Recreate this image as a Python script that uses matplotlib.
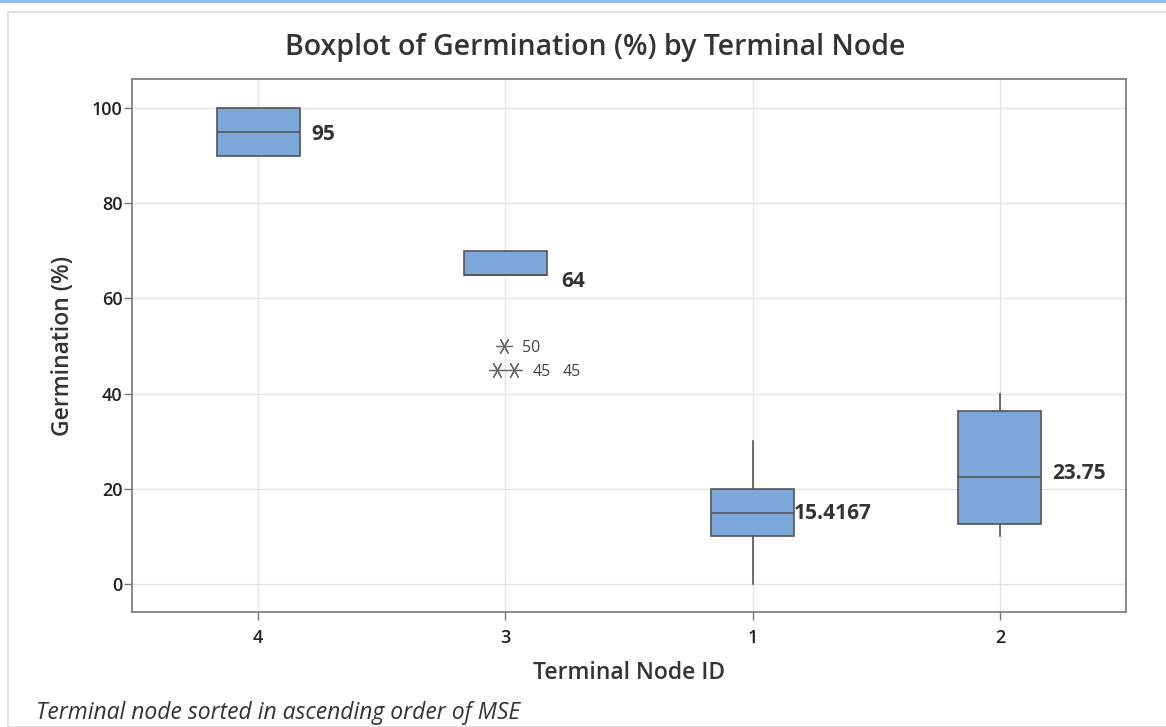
import matplotlib
matplotlib.use("Agg")
import matplotlib.pyplot as plt
from matplotlib.patches import Rectangle
from matplotlib.lines import Line2D
import matplotlib.transforms as mtransforms

# ---- data ----
nodes = ["4", "3", "1", "2"]
q1 = [90, 65, 10, 12.5]
medians = [95, 65, 15, 22.5]
q3 = [100, 70, 20, 36.25]
whisk_lo = [90, 65, 0, 10]
whisk_hi = [100, 70, 30, 40]
means = [95, 64, 15.4167, 23.75]
mean_labels = ["95", "64", "15.4167", "23.75"]
outliers = [[], [50, 45, 45], [], []]
yticks = [0, 20, 40, 60, 80, 100]

title = "Boxplot of Germination (%) by Terminal Node"
xlabel = "Terminal Node ID"
ylabel = "Germination (%)"
footnote = "Terminal node sorted in ascending order of MSE"

# layout-only: horizontal offsets of mean labels from box centre (axis units)
label_dx = [0.215, 0.227, 0.167, 0.21]

FONT = ["Open Sans", "DejaVu Sans"]
plt.rcParams["font.family"] = FONT

fig = plt.figure(figsize=(11.66, 7.27), dpi=100)
W, H = 1166, 727

def fx(px):
    return px / W

def fy(py):
    return 1 - py / H

# panel decorations
fig.add_artist(Line2D([0, 1], [fy(1), fy(1)], color="#8DB8E8", lw=2.2, transform=fig.transFigure))
fig.add_artist(Rectangle((fx(8), fy(727)), 1.2, fy(12) - fy(727), transform=fig.transFigure,
                         facecolor="none", edgecolor="#DDDDDD", lw=1.2, zorder=-1))

ax = fig.add_axes([fx(132), fy(612), fx(1126) - fx(132), fy(79) - fy(612)])
ax.set_facecolor("white")

positions = list(range(len(nodes)))
stats = []
for i in range(len(nodes)):
    stats.append(dict(med=medians[i], q1=q1[i], q3=q3[i], whislo=whisk_lo[i],
                      whishi=whisk_hi[i], fliers=[], label=nodes[i]))

ax.bxp(stats, positions=positions, widths=0.336, patch_artist=True, showfliers=False,
       showcaps=False,
       boxprops=dict(facecolor="#7BA7D9", edgecolor="#555555", linewidth=1.2),
       medianprops=dict(color="#555555", linewidth=1.2),
       whiskerprops=dict(color="#555555", linewidth=1.2),
       zorder=3)

# outliers (duplicates side by side)
for i, vals in enumerate(outliers):
    seen = {}
    for v in vals:
        seen[v] = seen.get(v, 0) + 1
    for v, n in seen.items():
        offs = [-0.006] if n == 1 else [-0.034 + 0.068 * k / (n - 1) for k in range(n)]
        xs = [positions[i] + o for o in offs]
        ax.plot(xs, [v] * n, linestyle="none", marker=(6, 2, 90), markersize=12,
                markeredgecolor="#666666", markeredgewidth=0.9, zorder=4)
        for k in range(n):
            ax.text(xs[-1] + 0.075 + 0.123 * k, v, f"{v:g}", fontsize=11.5,
                    color="#444444", va="center_baseline", ha="left")

# mean labels
for i, m in enumerate(means):
    ax.text(positions[i] + label_dx[i], m, mean_labels[i], fontsize=15, fontweight="bold",
            color="#333333", va="center_baseline", ha="left", zorder=5)

ax.set_xlim(-0.51, 3.51)
ax.set_ylim(-5.9, 106.1)
ax.set_xticks(positions)
ax.set_xticklabels(nodes)
ax.set_yticks(yticks)
ax.grid(True, color="#E3E3E3", linewidth=1.0, zorder=0)
ax.set_axisbelow(True)
for s in ax.spines.values():
    s.set_color("#777777")
    s.set_linewidth(1.2)
ax.tick_params(axis="both", colors="#777777", labelcolor="#222222", length=6, width=1,
               labelsize=13)
ax.tick_params(axis="y", pad=1)
ax.tick_params(axis="x", pad=6)
for lab in ax.get_xticklabels() + ax.get_yticklabels():
    lab.set_fontweight("semibold")

ax.set_xlabel(xlabel, fontsize=16.5, color="#333333", fontweight="semibold", labelpad=10)
ax.set_ylabel(ylabel, fontsize=16.5, color="#333333", fontweight="semibold", labelpad=12)

fig.text(fx(595), fy(48), title, fontsize=20.5, fontweight="semibold", color="#333333",
         ha="center", va="center")
fig.text(fx(36), fy(713), footnote, fontsize=16.5, style="italic", color="#333333",
         ha="left", va="center")

fig.savefig("out.png", dpi=100)
